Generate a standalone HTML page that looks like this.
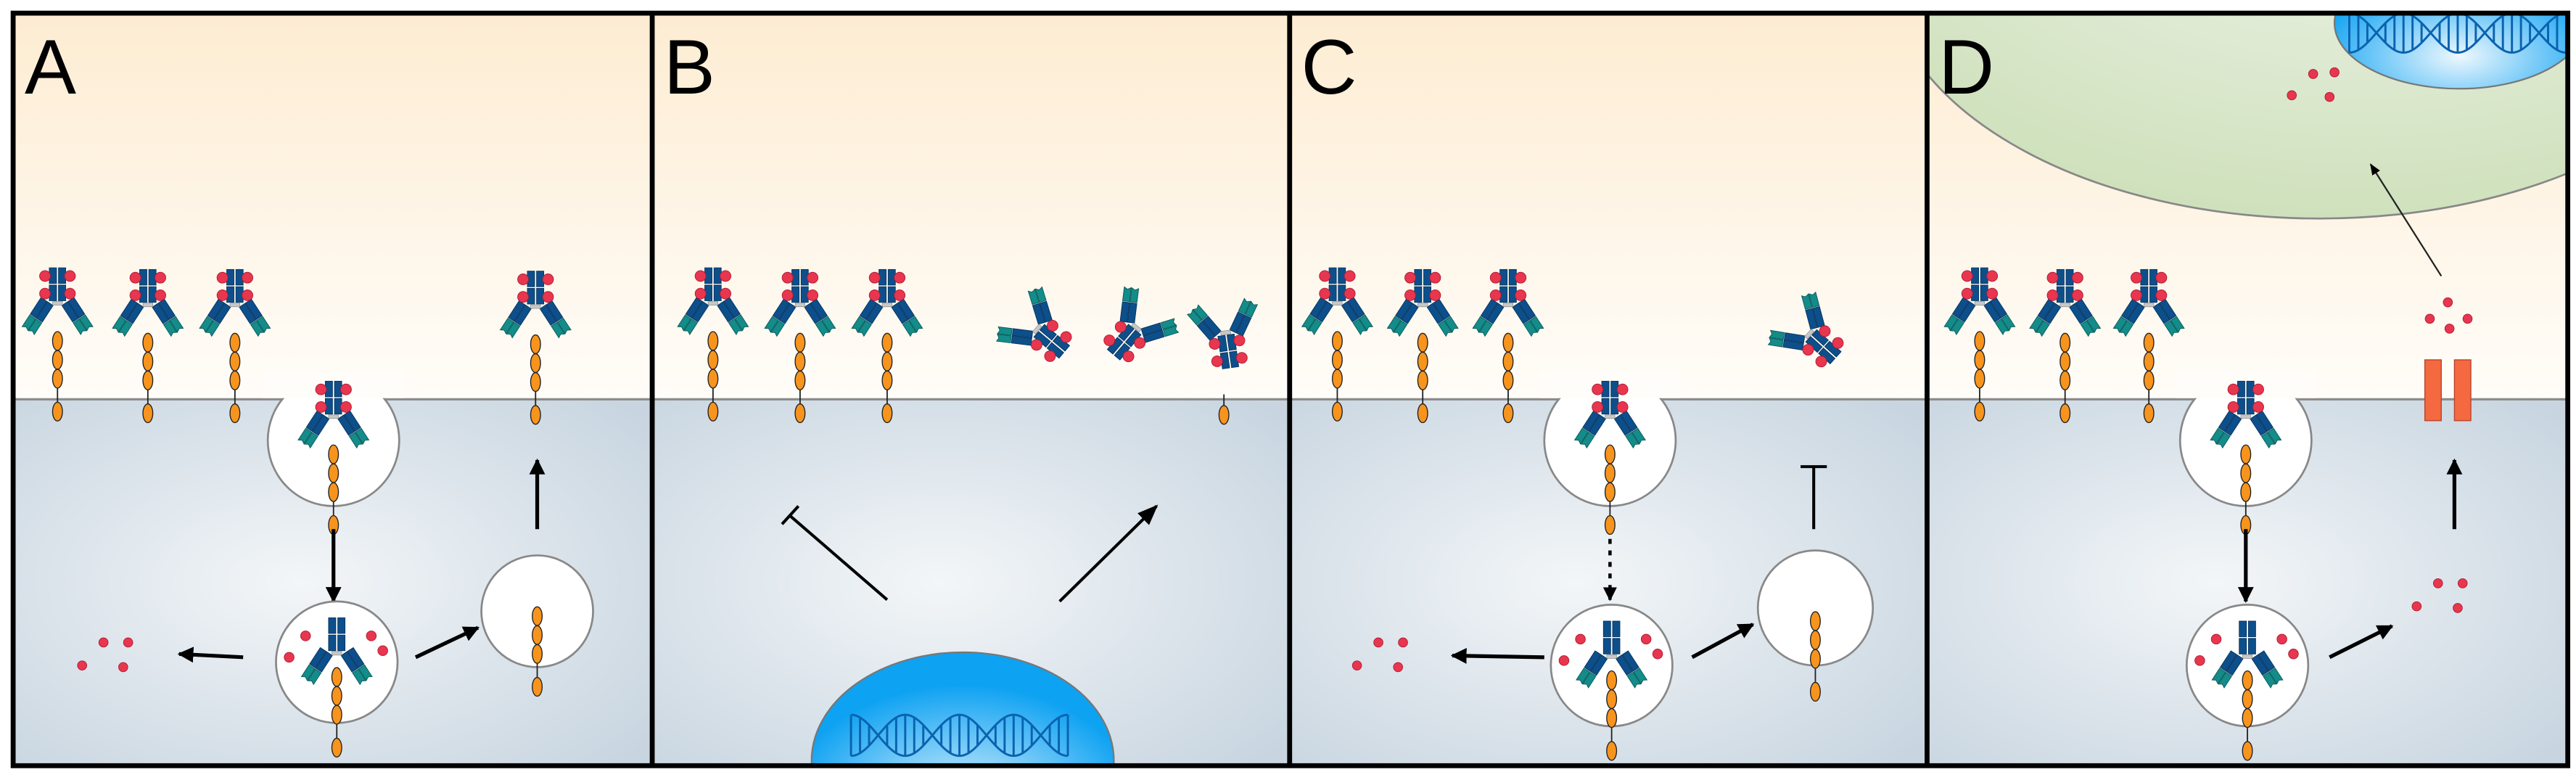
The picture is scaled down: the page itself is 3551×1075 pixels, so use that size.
<!DOCTYPE html>
<html><head><meta charset="utf-8"><style>html,body{margin:0;padding:0;background:#fff;width:3551px;height:1075px;overflow:hidden}svg{display:block}</style></head>
<body>
<svg id="s" xmlns="http://www.w3.org/2000/svg" width="3551" height="1075" viewBox="0 0 1568 474.7" preserveAspectRatio="none">
<defs>
<linearGradient id="top" x1="0" y1="0" x2="0" y2="1"><stop offset="0" stop-color="#fdecd2"/><stop offset="1" stop-color="#fffdf9"/></linearGradient>
<radialGradient id="bot" cx="0.45" cy="0.5" r="0.7"><stop offset="0" stop-color="#f3f6f8"/><stop offset="1" stop-color="#c8d5e0"/></radialGradient>
<radialGradient id="nuc" cx="0.5" cy="0.75" r="0.6"><stop offset="0" stop-color="#eef8fe"/><stop offset="1" stop-color="#0ea2f2"/></radialGradient>
<radialGradient id="cell" cx="0.55" cy="0.3" r="0.7"><stop offset="0" stop-color="#f0f4ec"/><stop offset="1" stop-color="#cfe1bc"/></radialGradient>
<marker id="ah" viewBox="0 0 10 10" refX="9" refY="5" markerWidth="4.2" markerHeight="4.2" orient="auto"><path d="M0,0L10,5L0,10z" fill="#000"/></marker>
<marker id="ah2" viewBox="0 0 10 10" refX="9" refY="5" markerWidth="7" markerHeight="7" orient="auto"><path d="M0,1L10,5L0,9z" fill="#000"/></marker>
<g id="arm">
<rect x="-9" y="0" width="4.2" height="12" fill="#0d4f8b" stroke="#06345f" stroke-width=".4"/>
<rect x="-4.4" y="0" width="4.2" height="12" fill="#0d4f8b" stroke="#06345f" stroke-width=".4"/>
<path d="M-9,12.6h4.2v8.5l-2.1,-1.2l-2.1,1.2z" fill="#138c8a" stroke="#0a5b5a" stroke-width=".4"/>
<path d="M-4.4,12.6h4.2v8.5l-2.1,-1.2l-2.1,1.2z" fill="#138c8a" stroke="#0a5b5a" stroke-width=".4"/>
</g>
<g id="abcore">
<use href="#arm" transform="translate(-2.5,1) rotate(33)"/>
<use href="#arm" transform="translate(2.5,1) scale(-1,1) rotate(33)"/>
<rect x="-5" y="-22" width="4.4" height="9.5" fill="#0d4f8b" stroke="#06345f" stroke-width=".4"/>
<rect x="0.6" y="-22" width="4.4" height="9.5" fill="#0d4f8b" stroke="#06345f" stroke-width=".4"/>
<rect x="-5" y="-11.5" width="4.4" height="9.5" fill="#0d4f8b" stroke="#06345f" stroke-width=".4"/>
<rect x="0.6" y="-11.5" width="4.4" height="9.5" fill="#0d4f8b" stroke="#06345f" stroke-width=".4"/>
<rect x="-3" y="-1.5" width="6" height="2.2" fill="#c8c8c8" stroke="#888" stroke-width=".3"/>
</g>
<g id="ab">
<use href="#abcore"/>
<g fill="#e8364f" stroke="#b01a33" stroke-width=".4">
<circle cx="-7.6" cy="-17" r="3.3"/><circle cx="7.6" cy="-17" r="3.3"/>
<circle cx="-7.6" cy="-6.3" r="3.3"/><circle cx="7.6" cy="-6.3" r="3.3"/>
</g></g>
<g id="rc" fill="#f7941d" stroke="#222" stroke-width=".6">
<line x1="0" y1="28" x2="0" y2="38" stroke="#222" stroke-width=".8"/>
<ellipse cx="0" cy="0" rx="3" ry="5.7"/><ellipse cx="0" cy="11.5" rx="3" ry="5.7"/><ellipse cx="0" cy="23" rx="3" ry="5.7"/><ellipse cx="0" cy="43" rx="3" ry="5.7"/>
</g>
<g id="unit"><use href="#ab"/><use href="#rc" y="22.5"/></g>
<g id="dots" fill="#e8364f" stroke="#b01a33" stroke-width=".4"><circle cx="13" cy="0" r="2.8"/><circle cx="28" cy="0" r="2.8"/><circle cx="0" cy="14" r="2.8"/><circle cx="25" cy="15" r="2.8"/></g>
<g id="lysodots" fill="#e8364f" stroke="#b01a33" stroke-width=".4"><circle cx="-19" cy="-16" r="3"/><circle cx="-29" cy="-3" r="3"/><circle cx="21" cy="-16" r="3"/><circle cx="28" cy="-7" r="3"/></g>
<clipPath id="cA"><rect x="8" y="8" width="389" height="458"/></clipPath>
<clipPath id="cB"><rect x="397" y="8" width="388" height="458"/></clipPath>
<clipPath id="cC"><rect x="785" y="8" width="388" height="458"/></clipPath>
<clipPath id="cD"><rect x="1173" y="8" width="390" height="458"/></clipPath>
</defs>

<rect x="8" y="8" width="1555" height="235" fill="url(#top)"/>
<rect x="8" y="243" width="389" height="223" fill="url(#bot)"/>
<rect x="397" y="243" width="388" height="223" fill="url(#bot)"/>
<rect x="785" y="243" width="388" height="223" fill="url(#bot)"/>
<rect x="1173" y="243" width="390" height="223" fill="url(#bot)"/>
<line x1="8" y1="243" x2="1563" y2="243" stroke="#8a8a8a" stroke-width="1.4"/>

<g clip-path="url(#cA)">
<use href="#unit" x="35" y="185"/><use href="#unit" x="90" y="186"/><use href="#unit" x="143" y="186"/><use href="#unit" x="326" y="187"/>
<circle cx="203" cy="268" r="40" fill="#fff" stroke="#888" stroke-width="1.2"/>
<rect x="160" y="226" width="86" height="16.3" fill="#fffdf9"/>
<use href="#unit" x="203" y="254"/>
<line x1="203" y1="322" x2="203" y2="366" stroke="#000" stroke-width="2.3" marker-end="url(#ah)"/>
<circle cx="205" cy="403" r="37" fill="#fff" stroke="#888" stroke-width="1.2"/>
<use href="#abcore" x="205" y="398"/><use href="#rc" x="205" y="412"/>
<use href="#lysodots" x="205" y="403"/>
<line x1="148" y1="400" x2="109" y2="398" stroke="#000" stroke-width="2.3" marker-end="url(#ah)"/>
<use href="#dots" x="50" y="391"/>
<line x1="253" y1="400" x2="291" y2="382" stroke="#000" stroke-width="2.3" marker-end="url(#ah)"/>
<circle cx="327" cy="372" r="34" fill="#fff" stroke="#888" stroke-width="1.2"/>
<use href="#rc" x="327" y="375"/>
<line x1="327" y1="322" x2="327" y2="280" stroke="#000" stroke-width="2.3" marker-end="url(#ah)"/>
<text x="15" y="57" font-family="Liberation Sans, sans-serif" font-size="47">A</text>
</g>

<g clip-path="url(#cB)">
<use href="#unit" x="434" y="185"/><use href="#unit" x="487" y="186"/><use href="#unit" x="540" y="186"/>
<use href="#ab" transform="translate(631,200) rotate(130)"/>
<use href="#ab" transform="translate(692,199) rotate(-140)"/>
<use href="#ab" transform="translate(746,202) rotate(172)"/>
<line x1="745" y1="240" x2="745" y2="247" stroke="#222" stroke-width=".8"/>
<ellipse cx="745" cy="252.5" rx="3" ry="5.7" fill="#f7941d" stroke="#222" stroke-width=".6"/>
<line x1="540" y1="365" x2="481" y2="314" stroke="#000" stroke-width="1.8"/>
<line x1="476" y1="319" x2="486" y2="308" stroke="#000" stroke-width="1.8"/>
<line x1="645" y1="366" x2="704" y2="308" stroke="#000" stroke-width="1.8" marker-end="url(#ah2)"/>
<ellipse cx="586" cy="463" rx="92" ry="66" fill="url(#nuc)" stroke="#777" stroke-width="1"/>
<g id="dnaB"></g>
<text x="404" y="57" font-family="Liberation Sans, sans-serif" font-size="47">B</text>
</g>

<g clip-path="url(#cC)">
<use href="#unit" x="814" y="185"/><use href="#unit" x="866" y="186"/><use href="#unit" x="918" y="186"/>
<use href="#ab" transform="translate(1101,203) rotate(132)"/>
<circle cx="980" cy="268" r="40" fill="#fff" stroke="#888" stroke-width="1.2"/>
<rect x="937" y="226" width="86" height="16.3" fill="#fffdf9"/>
<use href="#unit" x="980" y="254"/>
<line x1="980" y1="328" x2="980" y2="365" stroke="#000" stroke-width="2" stroke-dasharray="3,4" marker-end="url(#ah)"/>
<circle cx="981" cy="405" r="37" fill="#fff" stroke="#888" stroke-width="1.2"/>
<use href="#abcore" x="981" y="400"/><use href="#rc" x="981" y="414"/>
<use href="#lysodots" x="981" y="405"/>
<line x1="940" y1="400" x2="884" y2="399" stroke="#000" stroke-width="2.3" marker-end="url(#ah)"/>
<use href="#dots" x="826" y="391"/>
<line x1="1030" y1="400" x2="1067" y2="380" stroke="#000" stroke-width="2.3" marker-end="url(#ah)"/>
<circle cx="1105" cy="370" r="35" fill="#fff" stroke="#888" stroke-width="1.2"/>
<use href="#rc" x="1105" y="378"/>
<line x1="1104" y1="322" x2="1104" y2="284" stroke="#000" stroke-width="1.8"/>
<line x1="1096" y1="284" x2="1112" y2="284" stroke="#000" stroke-width="1.8"/>
<text x="792" y="57" font-family="Liberation Sans, sans-serif" font-size="47">C</text>
</g>

<g clip-path="url(#cD)">
<ellipse cx="1412" cy="-22" rx="265" ry="155" fill="url(#cell)" stroke="#888" stroke-width="1.2"/>
<ellipse cx="1497" cy="14" rx="76" ry="40" fill="url(#nuc)" stroke="#777" stroke-width="1"/>
<g id="dnaD"></g>
<g fill="#e8364f" stroke="#b01a33" stroke-width=".4"><circle cx="1408" cy="45" r="2.8"/><circle cx="1421" cy="44" r="2.8"/><circle cx="1395" cy="58" r="2.8"/><circle cx="1418" cy="59" r="2.8"/></g>
<use href="#unit" x="1205" y="185"/><use href="#unit" x="1257" y="186"/><use href="#unit" x="1308" y="186"/>
<circle cx="1367" cy="268" r="40" fill="#fff" stroke="#888" stroke-width="1.2"/>
<rect x="1324" y="226" width="86" height="16.3" fill="#fffdf9"/>
<use href="#unit" x="1367" y="254"/>
<line x1="1367" y1="322" x2="1367" y2="366" stroke="#000" stroke-width="2.3" marker-end="url(#ah)"/>
<circle cx="1368" cy="405" r="37" fill="#fff" stroke="#888" stroke-width="1.2"/>
<use href="#abcore" x="1368" y="400"/><use href="#rc" x="1368" y="414"/>
<use href="#lysodots" x="1368" y="405"/>
<line x1="1418" y1="400" x2="1456" y2="381" stroke="#000" stroke-width="2.3" marker-end="url(#ah)"/>
<use href="#dots" x="1471" y="355"/>
<line x1="1494" y1="322" x2="1494" y2="280" stroke="#000" stroke-width="2.3" marker-end="url(#ah)"/>
<rect x="1476" y="219" width="10" height="37" fill="#f4693f" stroke="#b8432a" stroke-width=".6"/>
<rect x="1494" y="219" width="10" height="37" fill="#f4693f" stroke="#b8432a" stroke-width=".6"/>
<g fill="#e8364f" stroke="#b01a33" stroke-width=".4"><circle cx="1490" cy="184" r="2.8"/><circle cx="1479" cy="194" r="2.8"/><circle cx="1502" cy="194" r="2.8"/><circle cx="1491" cy="200" r="2.8"/></g>
<line x1="1486" y1="168" x2="1443" y2="100" stroke="#222" stroke-width="1" marker-end="url(#ah2)"/>
<text x="1180" y="57" font-family="Liberation Sans, sans-serif" font-size="47">D</text>
</g>

<rect x="8" y="8" width="1555" height="458" fill="none" stroke="#000" stroke-width="3"/>
<line x1="397" y1="8" x2="397" y2="466" stroke="#000" stroke-width="3"/>
<line x1="785" y1="8" x2="785" y2="466" stroke="#000" stroke-width="3"/>
<line x1="1173" y1="8" x2="1173" y2="466" stroke="#000" stroke-width="3"/>
</svg>
<script>
function dna(id,x0,x1,mid,amp,per){
  var g=document.getElementById(id),ns="http://www.w3.org/2000/svg",p1="",p2="",r="";
  var c0=x0+per/4;
  for(var x=x0;x<=x1+0.01;x+=0.5){
    var a=Math.sin((x-c0)/per*2*Math.PI);
    p1+=(x==x0?"M":"L")+x.toFixed(2)+","+(mid-amp*a).toFixed(2);
    p2+=(x==x0?"M":"L")+x.toFixed(2)+","+(mid+amp*a).toFixed(2);
  }
  for(var x=x0;x<=x1+0.01;x+=per/12){
    var a=Math.sin((x-c0)/per*2*Math.PI);
    r+="M"+x.toFixed(2)+","+(mid-amp*a).toFixed(2)+"V"+(mid+amp*a).toFixed(2);
  }
  var p=document.createElementNS(ns,"path");
  p.setAttribute("d",p1+p2+r);p.setAttribute("fill","none");
  p.setAttribute("stroke","#0a63b0");p.setAttribute("stroke-width","1.3");
  g.appendChild(p);
}
dna("dnaB",518,650,447.5,12.5,66);
dna("dnaD",1430,1570,20,12,66);
</script>
</body></html>
